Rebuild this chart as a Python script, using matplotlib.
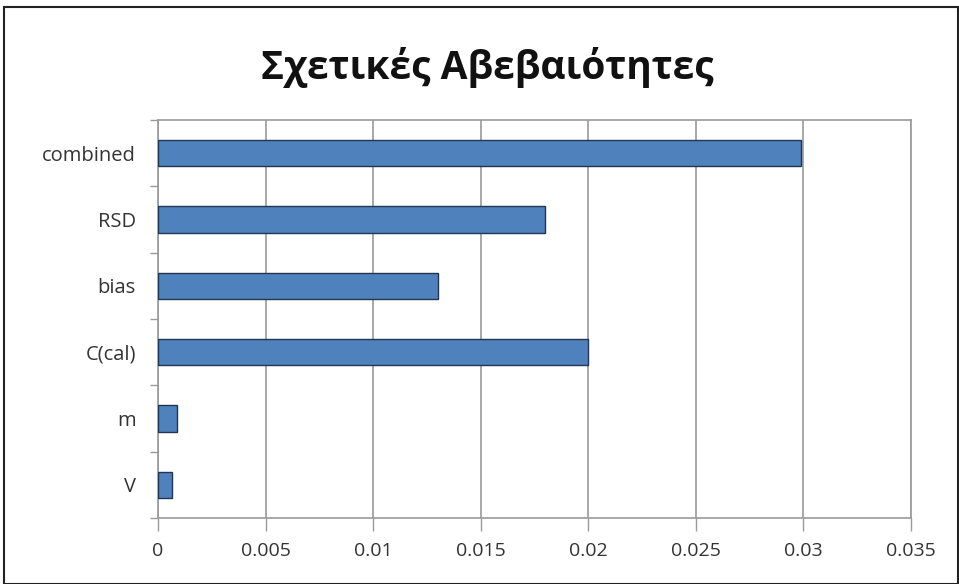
import matplotlib
matplotlib.use("Agg")
import matplotlib.pyplot as plt
import numpy as np
from matplotlib.patches import Rectangle

categories = ["combined", "RSD", "bias", "C(cal)", "m", "V"]
values = [0.0299, 0.0180, 0.0130, 0.0200, 0.0009, 0.00065]
xticks = [0, 0.005, 0.01, 0.015, 0.02, 0.025, 0.03, 0.035]
xticklabels = ["0", "0.005", "0.01", "0.015", "0.02", "0.025", "0.03", "0.035"]
title = "Σχετικές Αβεβαιότητες"

plt.rcParams['font.family'] = ['Open Sans', 'DejaVu Sans']

fig = plt.figure(figsize=(9.59, 5.84), dpi=100)
ax = fig.add_axes([0.1648, 0.113, 0.785, 0.6815])

y = np.arange(len(categories))[::-1]
ax.barh(y, values, height=0.4, color="#4F81BD", edgecolor="#22364f", linewidth=1.0, zorder=3)

ax.set_xlim(0, 0.035)
ax.set_ylim(-0.5, len(categories) - 0.5)
ax.set_xticks(xticks)
ax.set_xticklabels(xticklabels, fontsize=14, color="#333333")
ax.set_yticks(y)
ax.set_yticklabels(categories, fontsize=14.5, color="#333333")
ax.set_yticks(np.arange(-0.5, len(categories), 1.0), minor=True)

ax.tick_params(axis="y", which="major", length=0, pad=16)
ax.tick_params(axis="y", which="minor", length=6, color="#9a9a9a", width=1)
ax.tick_params(axis="x", which="major", length=9, color="#9a9a9a", width=1, pad=8)

ax.grid(axis="x", color="#9a9a9a", linewidth=1.2, zorder=0)
for s in ax.spines.values():
    s.set_color("#9a9a9a")
    s.set_linewidth(1.2)

fig.text(0.508, 0.885, title, ha="center", va="center", fontsize=28, fontweight="bold", color="#111111")

fig.patches.append(Rectangle((0.004, 0.0), 0.995, 0.988, transform=fig.transFigure,
                             fill=False, edgecolor="#222222", linewidth=1.5))

fig.savefig("out.png", dpi=100)
